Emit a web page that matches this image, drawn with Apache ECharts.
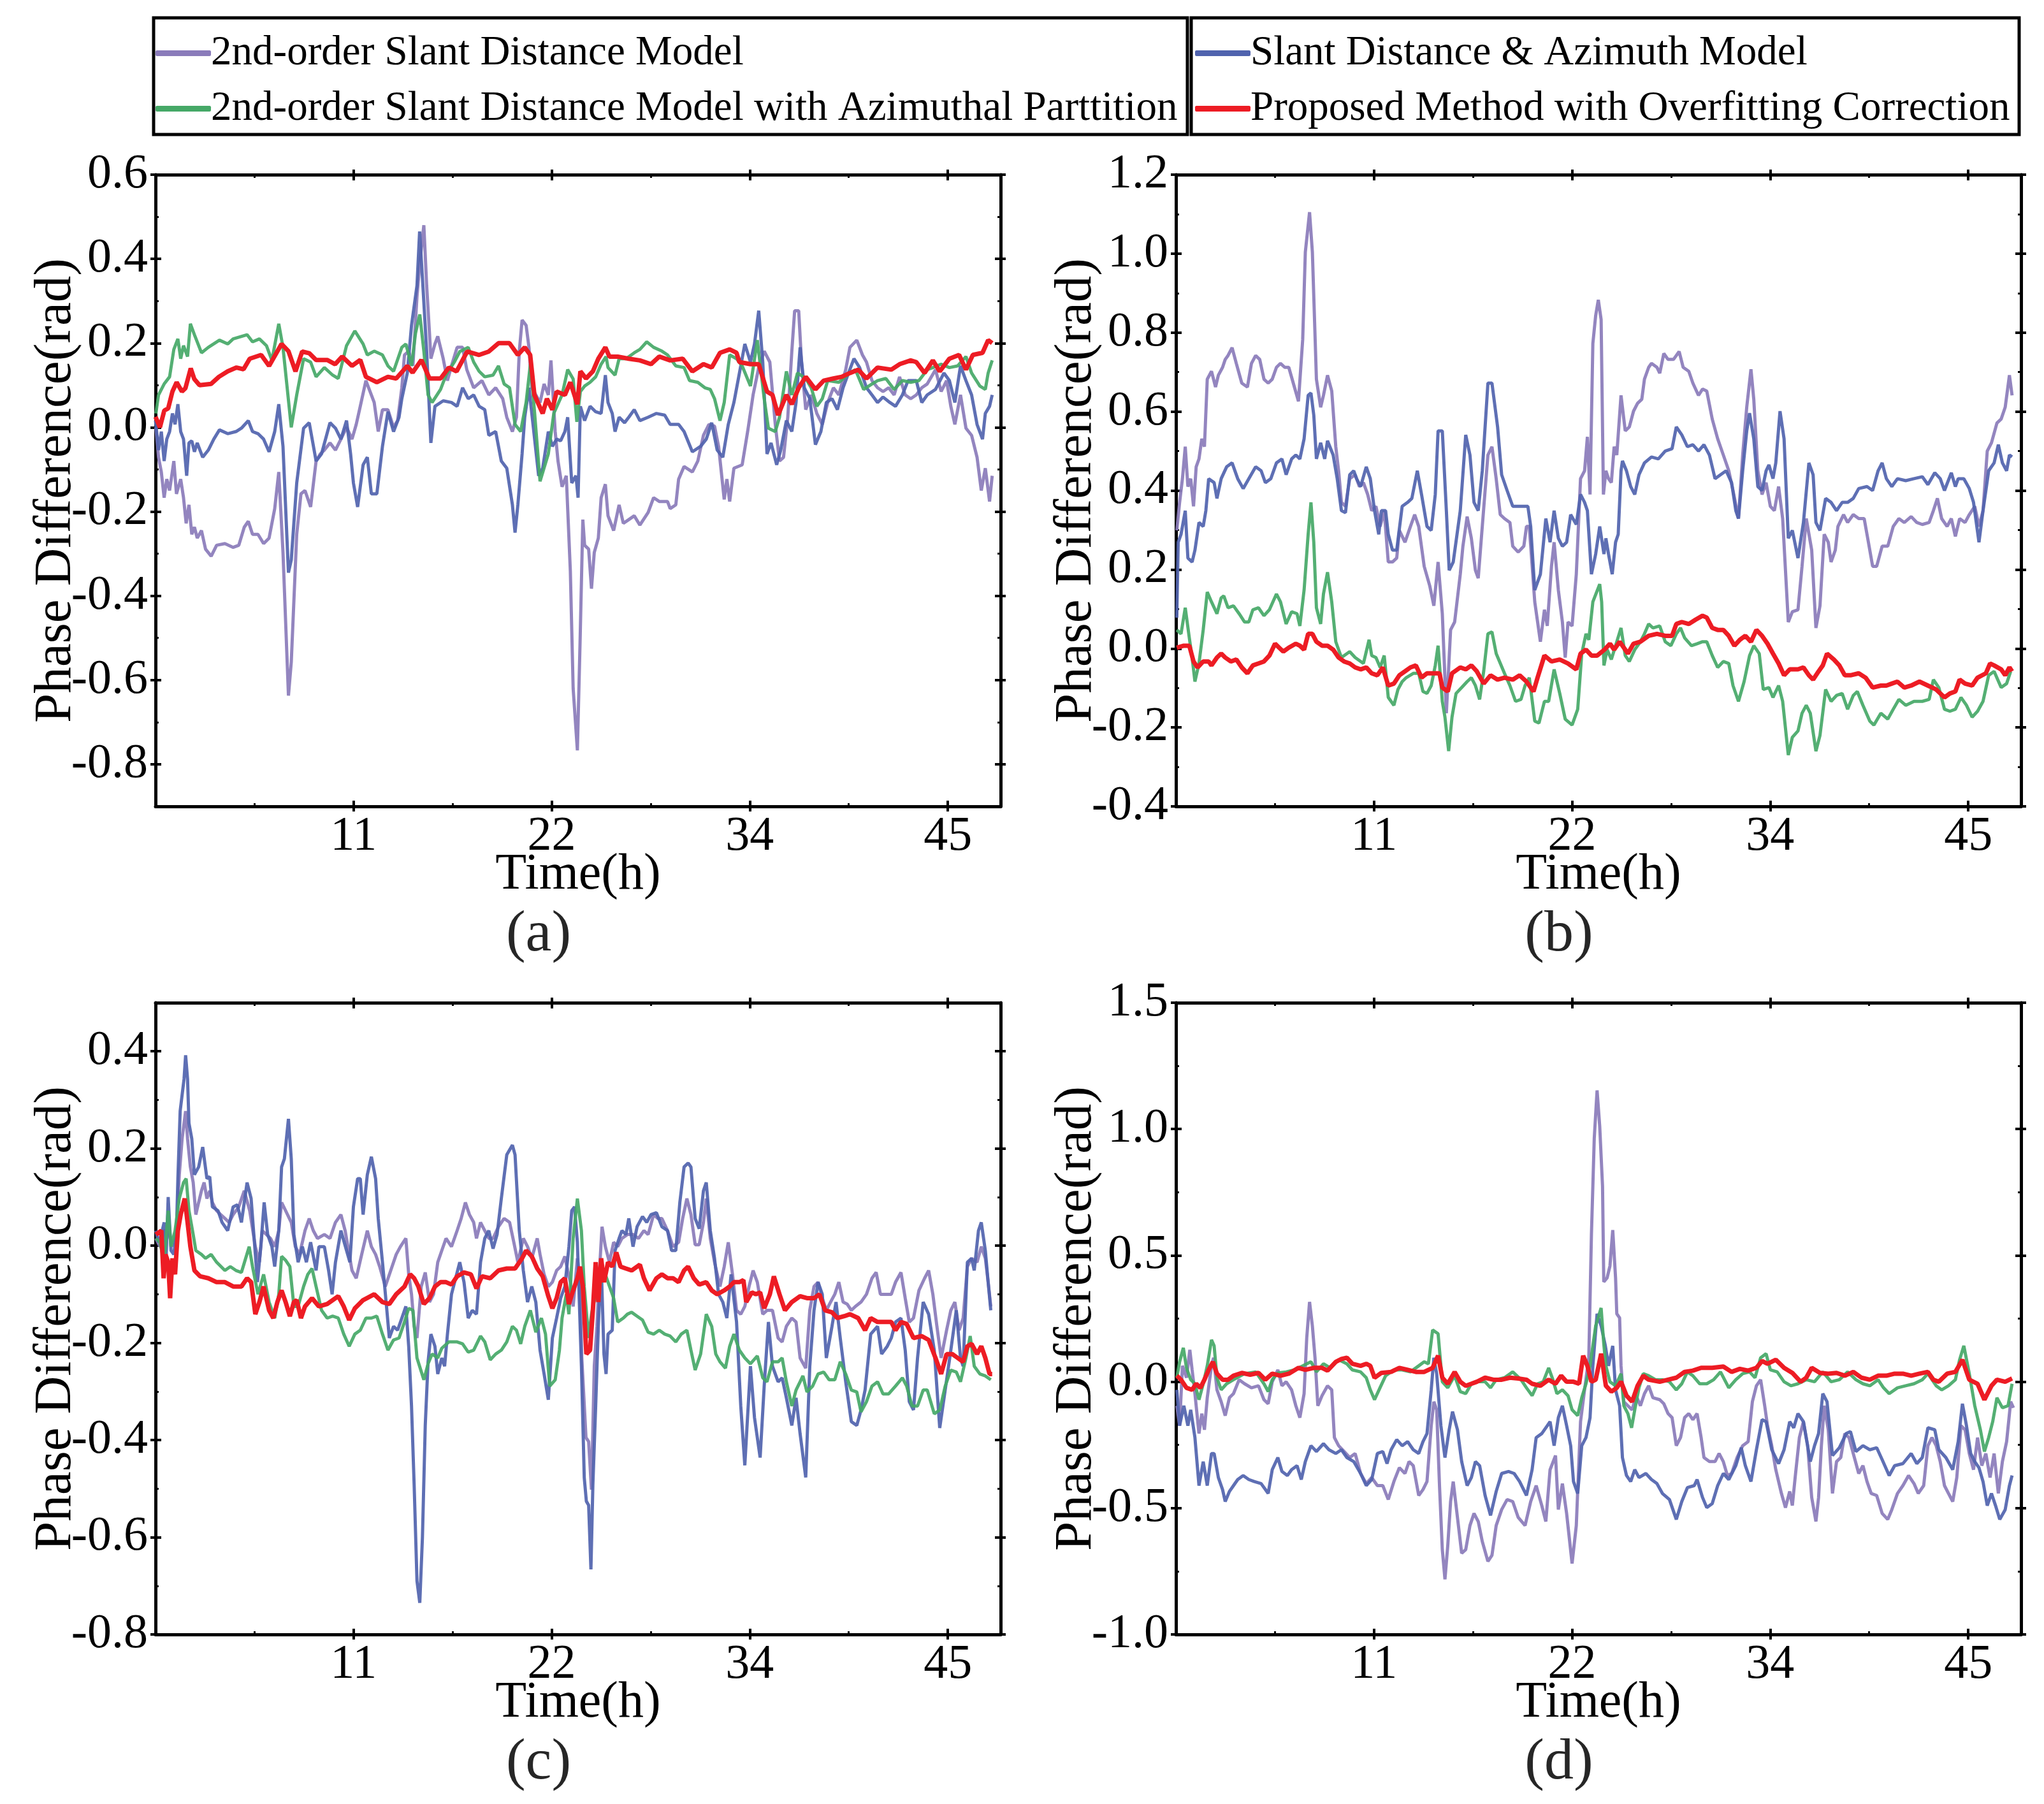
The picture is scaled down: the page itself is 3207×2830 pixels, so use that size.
<!DOCTYPE html>
<html>
<head>
<meta charset="utf-8">
<script src="https://cdn.jsdelivr.net/npm/echarts@6/dist/echarts.min.js"></script>
<style>
  html, body { margin: 0; padding: 0; background: #fff; }
  #chart { width: 3207px; height: 2830px; }
</style>
</head>
<body>
<div id="chart"></div>
<script>
const FONT = '"Liberation Serif", "Times New Roman", serif';

const seriesNames = [
  '2nd-order Slant Distance Model',
  'Slant Distance & Azimuth Model',
  '2nd-order Slant Distance Model with Azimuthal Parttition',
  'Proposed Method with Overfitting Correction'
];
const seriesColors = ['#8A7BBA', '#5063AE', '#45A867', '#ED1C24'];

// x ticks (hours) and their printed labels
const xTickValues = [11.25, 22.5, 33.75, 45];
const xTickLabels = ['11', '22', '34', '45'];

// y tick labels per panel
const aYTicks = [-0.8, -0.6, -0.4, -0.2, 0, 0.2, 0.4, 0.6];
const bYTicks = [-0.4, -0.2, 0, 0.2, 0.4, 0.6, 0.8, 1.0, 1.2];
const cYTicks = [-0.8, -0.6, -0.4, -0.2, 0, 0.2, 0.4];
const dYTicks = [-1.0, -0.5, 0, 0.5, 1.0, 1.5];

// ---- panel (a) ----
const aSlant2nd = [[0.02,0],[0.17,-0.071],[0.33,-0.106],[0.49,-0.167],[0.64,-0.123],[0.8,-0.15],[1.04,-0.08],[1.19,-0.158],[1.43,-0.123],[1.59,-0.167],[1.74,-0.228],[1.9,-0.184],[2.06,-0.254],[2.21,-0.237],[2.37,-0.263],[2.61,-0.245],[2.84,-0.289],[3.16,-0.306],[3.47,-0.28],[3.94,-0.276],[4.41,-0.285],[4.73,-0.28],[5.04,-0.237],[5.27,-0.223],[5.51,-0.254],[5.82,-0.254],[6.14,-0.276],[6.45,-0.263],[6.77,-0.193],[7.0,-0.106],[7.24,-0.297],[7.55,-0.637],[7.71,-0.558],[8.02,-0.254],[8.26,-0.158],[8.49,-0.15],[8.81,-0.189],[9.12,-0.08],[9.36,-0.063],[9.59,-0.054],[9.91,-0.037],[10.22,-0.054],[10.53,-0.028],[10.85,0],[11.16,-0.028],[11.4,0.007],[11.63,0.05],[11.95,0.111],[12.26,0.077],[12.42,0.059],[12.65,-0.01],[12.89,0.042],[13.2,0.042],[13.52,0],[13.75,0.016],[13.99,0.094],[14.14,0.172],[14.38,0.181],[14.62,0.146],[14.85,0.311],[15.01,0.39],[15.24,0.48],[15.4,0.337],[15.56,0.224],[15.64,0.163],[15.87,0.198],[16.03,0.216],[16.34,0.163],[16.58,0.111],[16.81,0.146],[17.13,0.19],[17.44,0.19],[17.68,0.137],[18.07,0.094],[18.54,0.111],[18.93,0.077],[19.32,0.094],[19.72,0.068],[19.95,0.024],[20.27,-0.01],[20.5,0.024],[20.66,0.18],[20.82,0.255],[21.05,0.242],[21.21,0.19],[21.37,0.094],[21.6,0.077],[21.84,0.059],[22.07,0.103],[22.31,0.077],[22.46,0.159],[22.7,-0.01],[22.86,-0.08],[23.09,-0.141],[23.33,-0.115],[23.56,-0.34],[23.72,-0.62],[23.96,-0.767],[24.11,-0.515],[24.27,-0.219],[24.37,-0.28],[24.6,-0.289],[24.76,-0.383],[24.92,-0.297],[25.15,-0.263],[25.31,-0.167],[25.55,-0.135],[25.7,-0.21],[26.02,-0.245],[26.33,-0.184],[26.57,-0.228],[26.88,-0.219],[27.19,-0.21],[27.51,-0.232],[27.98,-0.202],[28.29,-0.167],[28.61,-0.176],[29.08,-0.176],[29.23,-0.193],[29.55,-0.184],[29.71,-0.123],[30.02,-0.093],[30.49,-0.106],[30.8,-0.08],[31.12,-0.019],[31.43,0.007],[31.75,0.003],[31.98,-0.045],[32.3,-0.171],[32.45,-0.123],[32.61,-0.176],[32.85,-0.097],[33.32,-0.089],[33.63,-0.01],[33.94,0.077],[34.26,0.142],[34.57,0.181],[34.89,0.155],[35.2,0.007],[35.44,-0.08],[35.67,-0.071],[35.91,0.024],[36.14,0.181],[36.3,0.277],[36.53,0.277],[36.69,0.155],[36.93,0.042],[37.24,0.077],[37.56,0.033],[37.87,0.007],[38.18,0.059],[38.5,0.094],[38.81,0.077],[39.2,0.137],[39.44,0.19],[39.83,0.207],[40.15,0.172],[40.38,0.155],[40.69,0.111],[41.01,0.094],[41.32,0.085],[41.64,0.094],[41.95,0.077],[42.26,0.12],[42.58,0.077],[42.89,0.068],[43.21,0.077],[43.52,0.094],[43.83,0.103],[44.3,0.137],[44.62,0.085],[44.93,0.111],[45.17,0.05],[45.4,0.007],[45.72,0.077],[46.03,-0.002],[46.35,-0.019],[46.66,-0.071],[46.9,-0.15],[47.13,-0.097],[47.37,-0.176],[47.52,-0.115]];
const aSlantAzimuth = [[0,0.016],[0.17,-0.054],[0.33,-0.01],[0.49,-0.08],[0.64,-0.028],[0.8,-0.01],[0.96,0.033],[1.11,0.007],[1.27,0.055],[1.43,-0.01],[1.59,-0.028],[1.77,-0.115],[1.9,-0.037],[2.06,-0.032],[2.21,-0.058],[2.37,-0.037],[2.68,-0.071],[3.0,-0.054],[3.31,-0.028],[3.63,-0.006],[4.1,-0.015],[4.57,-0.01],[4.88,-0.002],[5.27,0.016],[5.51,-0.01],[5.82,-0.015],[6.14,-0.028],[6.45,-0.058],[6.77,-0.01],[7.0,0.055],[7.24,-0.045],[7.55,-0.345],[7.71,-0.315],[8.02,-0.132],[8.41,-0.002],[8.73,0.011],[9.12,-0.08],[9.43,-0.063],[9.91,0.011],[10.22,-0.002],[10.53,-0.028],[10.85,0.016],[11.08,-0.063],[11.24,-0.132],[11.48,-0.189],[11.79,-0.089],[12.03,-0.071],[12.26,-0.158],[12.57,-0.158],[12.89,-0.045],[13.2,0.037],[13.52,-0.01],[13.83,0.024],[13.99,0.068],[14.3,0.129],[14.54,0.242],[14.85,0.337],[15.0,0.465],[15.16,0.355],[15.4,0.18],[15.64,-0.037],[15.87,0.05],[16.34,0.063],[16.81,0.059],[17.13,0.05],[17.44,0.094],[17.76,0.068],[18.07,0.077],[18.38,0.05],[18.7,0.042],[18.93,-0.019],[19.32,-0.01],[19.64,-0.08],[19.95,-0.097],[20.27,-0.184],[20.42,-0.25],[20.58,-0.184],[20.82,-0.063],[20.97,0.024],[21.21,0.094],[21.44,0.007],[21.76,-0.115],[21.99,-0.097],[22.31,-0.01],[22.54,-0.045],[22.78,-0.028],[23.01,-0.032],[23.25,-0.01],[23.41,0.024],[23.64,-0.132],[23.88,-0.115],[24.0,-0.167],[24.13,0.05],[24.37,0.016],[24.68,0.05],[25.0,0.037],[25.31,0.033],[25.55,0.124],[25.7,0.059],[25.94,0.033],[26.1,-0.01],[26.33,0.024],[26.64,0.011],[26.88,0.024],[27.19,0.042],[27.51,0.016],[27.98,0.024],[28.45,0.033],[28.92,0.029],[29.23,0.007],[29.71,0.007],[30.02,-0.01],[30.49,-0.058],[30.96,-0.045],[31.28,-0.028],[31.59,0.011],[31.9,-0.054],[32.22,-0.071],[32.53,0.007],[32.85,0.059],[33.24,0.146],[33.47,0.198],[33.79,0.155],[34.02,0.198],[34.26,0.277],[34.49,0.155],[34.73,-0.063],[34.96,-0.037],[35.28,-0.089],[35.51,-0.054],[35.83,0.016],[36.14,-0.01],[36.38,0.059],[36.61,0.19],[36.85,0.094],[37.16,0.068],[37.48,-0.041],[37.79,-0.01],[38.1,0.059],[38.42,0.068],[38.73,0.042],[39.05,0.094],[39.36,0.129],[39.67,0.163],[39.99,0.142],[40.38,0.094],[40.69,0.077],[41.01,0.059],[41.32,0.072],[41.71,0.059],[42.03,0.05],[42.42,0.077],[42.74,0.111],[43.21,0.111],[43.52,0.059],[43.83,0.077],[44.3,0.09],[44.78,0.129],[45.09,0.111],[45.4,0.059],[45.72,0.146],[46.03,0.111],[46.35,0.077],[46.66,0.007],[46.97,-0.028],[47.13,0.033],[47.37,0.05],[47.52,0.077]];
const aSlantPartition = [[0.02,0.033],[0.17,0.077],[0.49,0.103],[0.8,0.12],[1.04,0.185],[1.27,0.21],[1.43,0.163],[1.59,0.194],[1.82,0.168],[1.98,0.246],[2.21,0.22],[2.61,0.177],[3.0,0.19],[3.63,0.207],[4.1,0.198],[4.41,0.21],[5.2,0.22],[5.51,0.203],[5.9,0.21],[6.3,0.194],[6.61,0.159],[7.0,0.246],[7.24,0.19],[7.71,0.0],[8.02,0.077],[8.41,0.163],[8.81,0.155],[9.12,0.12],[9.59,0.142],[10.06,0.124],[10.38,0.116],[10.85,0.194],[11.32,0.229],[11.79,0.198],[12.03,0.172],[12.42,0.181],[12.89,0.172],[13.2,0.146],[13.52,0.133],[13.99,0.19],[14.22,0.198],[14.54,0.146],[14.77,0.224],[15.01,0.268],[15.24,0.181],[15.48,0.077],[15.71,0.059],[16.19,0.09],[16.5,0.124],[16.97,0.155],[17.28,0.18],[17.76,0.19],[18.07,0.155],[18.38,0.133],[18.7,0.12],[19.17,0.124],[19.48,0.146],[19.8,0.103],[20.11,0.094],[20.42,0.007],[20.74,-0.01],[21.05,0.06],[21.29,0.15],[21.52,0.04],[21.84,-0.128],[22.31,-0.063],[22.62,0.033],[23.09,0.077],[23.41,0.137],[23.72,0.115],[23.93,0.013],[24.13,0.085],[24.37,0.098],[24.68,0.107],[25.0,0.12],[25.31,0.15],[25.59,0.168],[25.7,0.142],[26.1,0.124],[26.33,0.163],[26.72,0.163],[27.19,0.177],[27.51,0.185],[27.9,0.203],[28.29,0.19],[28.76,0.181],[29.08,0.172],[29.55,0.146],[30.02,0.142],[30.33,0.111],[30.8,0.107],[31.2,0.094],[31.51,0.09],[31.75,0.068],[32.06,0.016],[32.3,0.059],[32.61,0.172],[33.0,0.163],[33.32,0.146],[33.79,0.098],[34.18,0.207],[34.57,0.068],[34.81,-0.002],[35.2,-0.01],[35.44,0.024],[35.83,0.133],[36.14,0.077],[36.46,0.129],[36.93,0.116],[37.24,0.094],[37.56,0.05],[37.87,0.068],[38.18,0.111],[38.81,0.107],[39.44,0.129],[39.75,0.137],[40.22,0.09],[40.69,0.103],[41.01,0.111],[41.48,0.116],[41.95,0.09],[42.42,0.111],[42.89,0.107],[43.36,0.111],[43.83,0.137],[44.15,0.142],[44.62,0.15],[45.09,0.142],[45.56,0.146],[46.03,0.168],[46.35,0.129],[46.82,0.098],[47.13,0.09],[47.29,0.129],[47.52,0.159]];
const aProposed = [[0,0.025],[0.25,0],[0.5,0.04],[0.72,0.045],[0.96,0.085],[1.2,0.107],[1.5,0.085],[1.7,0.093],[2.0,0.14],[2.2,0.115],[2.5,0.1],[3.15,0.103],[3.6,0.12],[4.1,0.133],[4.6,0.142],[5.0,0.138],[5.35,0.163],[6.0,0.172],[6.45,0.146],[7.16,0.198],[7.55,0.181],[7.95,0.133],[8.33,0.18],[8.73,0.176],[9.12,0.16],[9.75,0.16],[10.2,0.15],[10.6,0.168],[11.16,0.146],[11.63,0.16],[11.95,0.12],[12.57,0.107],[13.2,0.12],[13.67,0.116],[14.3,0.146],[14.6,0.13],[15.1,0.16],[15.56,0.116],[16.19,0.116],[16.66,0.142],[17.1,0.133],[17.7,0.18],[18.38,0.172],[18.93,0.18],[19.48,0.2],[20.1,0.2],[20.58,0.172],[20.97,0.19],[21.28,0.172],[21.52,0.077],[21.99,0.033],[22.23,0.068],[22.54,0.042],[22.78,0.085],[23.25,0.077],[23.56,0.107],[23.96,0.055],[24.13,0.133],[24.45,0.116],[24.84,0.133],[25.15,0.163],[25.55,0.19],[25.78,0.168],[26.25,0.168],[26.88,0.163],[27.51,0.159],[28.14,0.15],[28.61,0.168],[29.23,0.159],[29.94,0.163],[30.49,0.133],[31.12,0.15],[31.59,0.142],[32.06,0.177],[32.61,0.185],[33.0,0.177],[33.16,0.155],[33.79,0.15],[34.26,0.15],[34.73,0.085],[35.04,0.077],[35.36,0.029],[35.83,0.077],[36.14,0.055],[36.53,0.094],[36.93,0.12],[37.48,0.09],[37.95,0.111],[38.5,0.116],[38.97,0.12],[39.44,0.129],[39.91,0.137],[40.38,0.116],[41.01,0.142],[41.79,0.137],[42.26,0.15],[42.89,0.159],[43.21,0.155],[43.68,0.129],[44.15,0.159],[44.54,0.133],[45.09,0.163],[45.64,0.172],[46.03,0.137],[46.42,0.172],[46.97,0.177],[47.29,0.207],[47.52,0.2]];

// ---- panel (b) ----
const bSlant2nd = [[0.05,0.299],[0.21,0.37],[0.37,0.43],[0.53,0.511],[0.68,0.41],[0.84,0.43],[1.0,0.36],[1.15,0.46],[1.31,0.48],[1.47,0.531],[1.62,0.511],[1.78,0.682],[2.02,0.702],[2.25,0.662],[2.41,0.692],[2.65,0.712],[2.8,0.732],[2.96,0.742],[3.19,0.762],[3.43,0.722],[3.74,0.672],[4.06,0.662],[4.29,0.722],[4.53,0.742],[4.76,0.732],[5.0,0.682],[5.24,0.672],[5.47,0.682],[5.71,0.712],[5.94,0.722],[6.18,0.712],[6.41,0.712],[6.73,0.662],[6.96,0.626],[7.2,0.782],[7.35,1.004],[7.59,1.105],[7.75,1.004],[7.98,0.682],[8.22,0.611],[8.38,0.641],[8.61,0.692],[8.85,0.652],[9.08,0.511],[9.24,0.45],[9.4,0.37],[9.63,0.36],[9.87,0.43],[10.18,0.44],[10.42,0.41],[10.65,0.42],[10.89,0.39],[11.12,0.349],[11.36,0.36],[11.6,0.309],[11.83,0.349],[12.06,0.219],[12.3,0.219],[12.54,0.229],[12.69,0.299],[13.01,0.269],[13.32,0.309],[13.56,0.339],[13.79,0.309],[14.1,0.208],[14.42,0.158],[14.65,0.108],[14.89,0.219],[15.13,0.088],[15.36,-0.164],[15.6,0.047],[15.83,0.067],[16.15,0.188],[16.3,0.259],[16.54,0.334],[16.78,0.279],[17.01,0.198],[17.17,0.178],[17.4,0.309],[17.72,0.49],[17.95,0.511],[18.19,0.43],[18.42,0.339],[18.66,0.329],[18.97,0.319],[19.13,0.259],[19.44,0.244],[19.76,0.259],[19.91,0.309],[20.07,0.309],[20.38,0.118],[20.7,0.017],[20.93,0.098],[21.09,0.057],[21.33,0.208],[21.48,0.269],[21.72,0.148],[21.95,0.067],[22.11,-0.023],[22.27,0.067],[22.5,0.057],[22.74,0.188],[22.98,0.43],[23.21,0.45],[23.37,0.536],[23.52,0.39],[23.68,0.772],[23.84,0.843],[23.99,0.883],[24.15,0.833],[24.28,0.39],[24.42,0.45],[24.57,0.43],[24.73,0.42],[24.89,0.511],[25.04,0.49],[25.28,0.641],[25.52,0.551],[25.75,0.561],[25.99,0.601],[26.22,0.621],[26.46,0.631],[26.61,0.682],[26.85,0.712],[27.01,0.722],[27.32,0.712],[27.48,0.697],[27.71,0.747],[27.95,0.732],[28.26,0.732],[28.58,0.752],[28.81,0.712],[29.13,0.702],[29.36,0.672],[29.68,0.641],[29.91,0.657],[30.15,0.652],[30.46,0.581],[30.77,0.531],[31.09,0.49],[31.4,0.45],[31.64,0.4],[31.95,0.329],[32.19,0.49],[32.42,0.611],[32.66,0.707],[32.82,0.631],[33.05,0.45],[33.29,0.39],[33.52,0.42],[33.76,0.36],[33.99,0.349],[34.23,0.41],[34.46,0.329],[34.78,0.067],[35.01,0.093],[35.33,0.098],[35.56,0.208],[35.8,0.329],[36.11,0.249],[36.35,0.052],[36.58,0.108],[36.82,0.289],[37.05,0.269],[37.21,0.219],[37.45,0.249],[37.6,0.309],[37.92,0.339],[38.15,0.319],[38.47,0.339],[38.78,0.329],[39.09,0.329],[39.33,0.269],[39.57,0.208],[39.8,0.208],[40.11,0.259],[40.43,0.259],[40.74,0.309],[41.06,0.329],[41.37,0.319],[41.76,0.334],[42.08,0.319],[42.39,0.314],[42.78,0.319],[43.02,0.349],[43.25,0.38],[43.49,0.329],[43.8,0.309],[44.04,0.329],[44.27,0.284],[44.51,0.329],[44.82,0.319],[45.06,0.339],[45.37,0.36],[45.61,0.309],[45.84,0.349],[46.08,0.5],[46.32,0.521],[46.63,0.571],[46.87,0.581],[47.1,0.611],[47.34,0.692],[47.49,0.641]];
const bSlantAzimuth = [[0.05,0.078],[0.13,0.269],[0.29,0.289],[0.53,0.349],[0.68,0.229],[0.92,0.219],[1.08,0.249],[1.31,0.319],[1.55,0.309],[1.7,0.349],[1.86,0.43],[2.17,0.42],[2.33,0.38],[2.57,0.43],[2.88,0.46],[3.19,0.47],[3.51,0.43],[3.82,0.405],[4.14,0.43],[4.53,0.46],[4.84,0.45],[5.08,0.42],[5.39,0.43],[5.71,0.47],[6.02,0.48],[6.26,0.44],[6.57,0.48],[6.81,0.49],[7.04,0.48],[7.28,0.531],[7.51,0.641],[7.67,0.647],[7.83,0.591],[7.98,0.48],[8.22,0.521],[8.45,0.48],[8.61,0.526],[8.93,0.49],[9.16,0.43],[9.4,0.349],[9.63,0.344],[9.87,0.44],[10.1,0.45],[10.26,0.43],[10.49,0.41],[10.81,0.46],[11.04,0.43],[11.28,0.349],[11.52,0.289],[11.67,0.349],[11.91,0.349],[12.06,0.289],[12.3,0.249],[12.54,0.249],[12.85,0.36],[13.16,0.37],[13.4,0.38],[13.71,0.45],[13.95,0.39],[14.26,0.309],[14.5,0.299],[14.73,0.39],[14.89,0.551],[15.13,0.551],[15.36,0.349],[15.52,0.198],[15.75,0.219],[16.15,0.349],[16.46,0.541],[16.7,0.49],[16.93,0.37],[17.17,0.349],[17.4,0.45],[17.72,0.672],[17.95,0.672],[18.27,0.561],[18.5,0.44],[18.81,0.4],[19.13,0.36],[19.52,0.36],[19.76,0.36],[19.99,0.36],[20.15,0.309],[20.38,0.148],[20.7,0.188],[21.01,0.329],[21.25,0.269],[21.48,0.349],[21.72,0.279],[21.95,0.259],[22.19,0.269],[22.42,0.339],[22.74,0.314],[22.98,0.39],[23.21,0.37],[23.37,0.349],[23.6,0.188],[23.84,0.239],[24.07,0.309],[24.31,0.239],[24.42,0.279],[24.57,0.239],[24.78,0.188],[24.97,0.269],[25.12,0.289],[25.28,0.45],[25.36,0.475],[25.59,0.45],[25.83,0.41],[26.06,0.39],[26.3,0.44],[26.61,0.47],[27.01,0.485],[27.4,0.48],[27.79,0.5],[28.18,0.506],[28.42,0.561],[28.73,0.541],[29.05,0.511],[29.36,0.516],[29.68,0.5],[29.99,0.516],[30.3,0.49],[30.62,0.43],[30.93,0.44],[31.25,0.45],[31.56,0.42],[31.8,0.349],[31.95,0.329],[32.19,0.45],[32.42,0.551],[32.58,0.596],[32.82,0.531],[33.05,0.41],[33.29,0.4],[33.52,0.45],[33.68,0.465],[33.91,0.43],[34.07,0.47],[34.31,0.601],[34.54,0.531],[34.78,0.279],[35.01,0.299],[35.33,0.229],[35.64,0.319],[35.95,0.47],[36.19,0.44],[36.35,0.319],[36.58,0.299],[36.9,0.38],[37.21,0.37],[37.52,0.349],[37.84,0.37],[38.15,0.37],[38.47,0.38],[38.78,0.405],[39.25,0.41],[39.57,0.4],[39.88,0.45],[40.11,0.47],[40.35,0.43],[40.66,0.41],[40.98,0.43],[41.45,0.425],[41.92,0.43],[42.39,0.435],[42.71,0.415],[43.1,0.445],[43.41,0.43],[43.65,0.4],[44.04,0.445],[44.27,0.41],[44.43,0.43],[44.75,0.43],[45.06,0.405],[45.3,0.37],[45.61,0.269],[45.84,0.349],[46.16,0.45],[46.47,0.47],[46.71,0.516],[46.94,0.47],[47.18,0.45],[47.34,0.49],[47.49,0.485]];
const bSlantPartition = [[0.05,0.047],[0.29,0.037],[0.53,0.103],[0.76,0.027],[0.92,-0.023],[1.08,-0.084],[1.31,-0.038],[1.55,0.047],[1.78,0.143],[2.02,0.118],[2.33,0.088],[2.57,0.128],[2.72,0.133],[2.96,0.103],[3.27,0.108],[3.59,0.088],[3.9,0.067],[4.14,0.067],[4.37,0.098],[4.69,0.103],[5.0,0.083],[5.31,0.098],[5.71,0.138],[5.94,0.118],[6.26,0.062],[6.57,0.093],[6.88,0.088],[7.04,0.057],[7.28,0.148],[7.51,0.289],[7.67,0.37],[7.83,0.269],[7.98,0.103],[8.22,0.062],[8.38,0.138],[8.61,0.193],[8.85,0.118],[9.08,0.017],[9.4,-0.023],[9.87,-0.008],[10.18,-0.023],[10.65,-0.038],[10.97,0.022],[11.12,-0.018],[11.36,-0.023],[11.6,-0.048],[11.83,-0.018],[12.06,-0.124],[12.38,-0.144],[12.61,-0.104],[12.85,-0.084],[13.08,-0.074],[13.48,-0.063],[13.79,-0.063],[14.03,-0.109],[14.26,-0.114],[14.5,-0.094],[14.73,-0.043],[14.89,0.007],[15.13,-0.134],[15.28,-0.174],[15.49,-0.26],[15.68,-0.174],[15.91,-0.114],[16.23,-0.099],[16.54,-0.084],[16.78,-0.074],[17.01,-0.094],[17.25,-0.129],[17.48,-0.058],[17.72,0.037],[17.95,0.042],[18.19,-0.013],[18.66,-0.063],[18.97,-0.094],[19.29,-0.134],[19.6,-0.129],[19.83,-0.094],[20.07,-0.074],[20.38,-0.184],[20.62,-0.189],[20.93,-0.134],[21.17,-0.134],[21.48,-0.053],[21.8,-0.114],[22.11,-0.179],[22.5,-0.194],[22.82,-0.154],[23.05,-0.013],[23.29,0.037],[23.45,0.022],[23.68,0.118],[24.07,0.163],[24.18,0.118],[24.31,-0.043],[24.49,-0.003],[24.73,-0.028],[24.97,0.007],[25.28,0.052],[25.52,-0.018],[25.75,-0.033],[26.06,-0.003],[26.38,0.017],[26.61,0.037],[26.85,0.062],[27.09,0.052],[27.48,0.057],[27.79,0.017],[28.11,0.007],[28.42,0.037],[28.66,0.052],[28.89,0.027],[29.28,0.007],[29.6,0.012],[29.91,0.017],[30.15,0.017],[30.46,-0.018],[30.77,-0.048],[31.09,-0.033],[31.4,-0.038],[31.64,-0.094],[31.95,-0.134],[32.27,-0.084],[32.58,-0.018],[32.82,0.007],[33.13,-0.013],[33.36,-0.104],[33.68,-0.099],[33.91,-0.124],[34.23,-0.094],[34.46,-0.134],[34.78,-0.27],[35.01,-0.225],[35.33,-0.209],[35.56,-0.164],[35.8,-0.144],[36.03,-0.164],[36.35,-0.26],[36.58,-0.22],[36.9,-0.104],[37.21,-0.134],[37.52,-0.119],[37.84,-0.114],[38.15,-0.154],[38.47,-0.119],[38.7,-0.109],[39.02,-0.144],[39.41,-0.184],[39.64,-0.194],[40.04,-0.164],[40.43,-0.179],[40.74,-0.154],[41.06,-0.129],[41.45,-0.144],[41.92,-0.134],[42.39,-0.134],[42.78,-0.129],[43.02,-0.079],[43.33,-0.099],[43.65,-0.154],[43.96,-0.159],[44.27,-0.154],[44.59,-0.124],[44.9,-0.144],[45.22,-0.174],[45.53,-0.159],[45.84,-0.134],[46.16,-0.068],[46.47,-0.058],[46.87,-0.099],[47.18,-0.089],[47.41,-0.058]];
const bProposed = [[0.05,0.002],[0.45,0.007],[0.76,0.007],[1.0,-0.033],[1.23,-0.048],[1.55,-0.033],[1.86,-0.033],[2.02,-0.043],[2.33,-0.023],[2.57,-0.013],[2.8,-0.023],[3.12,-0.033],[3.43,-0.028],[3.74,-0.048],[4.06,-0.063],[4.37,-0.043],[4.69,-0.038],[5.0,-0.033],[5.31,-0.018],[5.63,0.012],[5.86,0.002],[6.1,-0.008],[6.41,0.002],[6.81,0.012],[7.04,0.007],[7.28,-0.003],[7.51,0.037],[7.75,0.037],[7.98,0.017],[8.3,0.007],[8.61,0.007],[8.93,-0.003],[9.24,-0.023],[9.55,-0.033],[9.87,-0.038],[10.18,-0.048],[10.49,-0.053],[10.81,-0.048],[11.12,-0.063],[11.44,-0.068],[11.75,-0.048],[12.06,-0.094],[12.38,-0.089],[12.69,-0.068],[13.01,-0.058],[13.32,-0.048],[13.63,-0.043],[13.95,-0.074],[14.26,-0.063],[14.73,-0.063],[14.97,-0.063],[15.13,-0.099],[15.44,-0.109],[15.68,-0.063],[16.15,-0.048],[16.46,-0.053],[16.78,-0.043],[17.09,-0.058],[17.48,-0.089],[17.87,-0.068],[18.27,-0.079],[18.66,-0.074],[19.13,-0.079],[19.52,-0.068],[19.91,-0.084],[20.31,-0.109],[20.54,-0.074],[20.93,-0.018],[21.33,-0.033],[21.8,-0.028],[22.27,-0.038],[22.74,-0.053],[22.98,-0.013],[23.29,-0.003],[23.6,-0.018],[23.92,-0.018],[24.34,-0.003],[24.65,0.012],[24.89,-0.003],[25.2,0.017],[25.44,0.002],[25.67,-0.013],[25.99,0.012],[26.38,0.017],[26.85,0.032],[27.32,0.037],[27.79,0.032],[28.18,0.032],[28.42,0.062],[28.73,0.067],[29.13,0.062],[29.52,0.073],[29.91,0.083],[30.15,0.078],[30.46,0.052],[30.77,0.047],[31.09,0.047],[31.4,0.032],[31.72,0.007],[32.03,0.022],[32.34,0.032],[32.66,0.017],[32.97,0.047],[33.29,0.032],[33.6,0.012],[33.91,-0.013],[34.23,-0.038],[34.54,-0.068],[34.86,-0.053],[35.33,-0.053],[35.64,-0.048],[35.95,-0.068],[36.19,-0.079],[36.5,-0.058],[36.74,-0.043],[36.98,-0.013],[37.37,-0.028],[37.68,-0.043],[37.99,-0.068],[38.31,-0.068],[38.78,-0.063],[39.17,-0.074],[39.57,-0.099],[40.04,-0.094],[40.35,-0.094],[40.66,-0.089],[40.98,-0.084],[41.37,-0.099],[41.76,-0.094],[42.23,-0.084],[42.71,-0.094],[43.18,-0.104],[43.65,-0.124],[43.96,-0.114],[44.27,-0.109],[44.51,-0.079],[44.82,-0.089],[45.22,-0.094],[45.53,-0.074],[46.0,-0.063],[46.24,-0.038],[46.47,-0.043],[46.87,-0.053],[47.1,-0.068],[47.34,-0.048],[47.49,-0.058]];

// ---- panel (c) ----
const cSlant2nd = [[0.02,0.015],[0.25,-0.002],[0.49,0.031],[0.72,0.031],[0.96,-0.002],[1.19,0.031],[1.35,0.146],[1.51,0.22],[1.71,0.277],[1.82,0.22],[1.98,0.162],[2.14,0.13],[2.29,0.064],[2.45,0.089],[2.61,0.113],[2.76,0.13],[2.92,0.097],[3.08,0.113],[3.23,0.089],[3.47,0.072],[3.7,0.064],[3.94,0.056],[4.18,0.048],[4.41,0.064],[4.73,0.08],[5.04,0.113],[5.35,0.072],[5.67,-0.002],[5.9,-0.034],[6.06,0.031],[6.3,0.023],[6.53,0.015],[6.77,-0.002],[7.0,0.031],[7.16,0.089],[7.39,0.072],[7.71,0.048],[7.94,-0.002],[8.18,-0.018],[8.49,0.031],[8.73,0.056],[8.96,0.031],[9.2,0.015],[9.59,0.023],[9.91,0.015],[10.22,0.048],[10.53,0.064],[10.77,0.031],[11.0,-0.018],[11.16,-0.051],[11.4,-0.067],[11.71,-0.018],[12.03,0.031],[12.26,-0.002],[12.5,-0.018],[12.73,-0.043],[13.05,-0.084],[13.36,-0.051],[13.67,-0.018],[13.91,-0.002],[14.22,0.015],[14.38,-0.059],[14.54,-0.1],[14.69,-0.166],[14.85,-0.19],[15.09,-0.084],[15.32,-0.055],[15.56,-0.116],[15.79,-0.1],[16.03,-0.034],[16.26,-0.01],[16.5,0.015],[16.81,-0.002],[17.13,0.031],[17.36,0.056],[17.6,0.089],[17.83,0.064],[18.07,0.048],[18.23,0.015],[18.46,0.048],[18.7,0.031],[18.93,0.015],[19.17,0.015],[19.48,0.039],[19.8,0.056],[20.11,0.048],[20.35,0.007],[20.58,-0.034],[20.89,0.015],[21.13,-0.002],[21.37,-0.026],[21.68,0.015],[21.84,-0.018],[22.07,-0.059],[22.31,-0.084],[22.54,-0.075],[22.78,-0.051],[23.01,-0.043],[23.25,-0.022],[23.41,-0.051],[23.56,-0.075],[23.72,-0.125],[23.96,-0.026],[24.11,-0.075],[24.21,-0.231],[24.45,-0.395],[24.6,-0.403],[24.76,-0.502],[24.92,-0.248],[25.07,-0.166],[25.23,-0.043],[25.36,0.039],[25.55,-0.002],[25.78,-0.034],[26.02,0.007],[26.25,-0.002],[26.49,0.015],[26.8,0.023],[27.12,0.023],[27.43,0.015],[27.74,0.031],[27.98,0.023],[28.29,0.064],[28.53,0.056],[28.76,0.056],[29.08,0.031],[29.39,-0.002],[29.71,0.007],[29.94,0.056],[30.18,0.097],[30.41,0.064],[30.65,0.002],[30.88,0.002],[31.12,0.048],[31.28,0.097],[31.51,0.015],[31.75,-0.034],[32.06,-0.084],[32.3,-0.043],[32.53,0.007],[32.77,-0.059],[33.0,-0.133],[33.24,-0.141],[33.47,-0.125],[33.71,-0.084],[33.94,-0.051],[34.18,-0.075],[34.49,-0.141],[34.73,-0.133],[35.04,-0.133],[35.36,-0.19],[35.59,-0.198],[35.83,-0.166],[36.14,-0.149],[36.38,-0.157],[36.61,-0.231],[36.93,-0.252],[37.16,-0.133],[37.4,-0.084],[37.63,-0.075],[37.87,-0.108],[38.1,-0.133],[38.34,-0.116],[38.58,-0.1],[38.81,-0.075],[39.05,-0.116],[39.28,-0.12],[39.52,-0.133],[39.75,-0.125],[40.07,-0.116],[40.38,-0.1],[40.69,-0.067],[40.93,-0.055],[41.17,-0.1],[41.48,-0.1],[41.79,-0.1],[42.03,-0.075],[42.34,-0.055],[42.58,-0.108],[42.81,-0.157],[43.05,-0.149],[43.36,-0.092],[43.68,-0.067],[43.91,-0.051],[44.15,-0.1],[44.38,-0.166],[44.62,-0.231],[44.93,-0.174],[45.17,-0.133],[45.4,-0.116],[45.64,-0.174],[45.87,-0.149],[46.11,-0.043],[46.35,-0.026],[46.66,-0.034],[46.9,-0.002],[47.13,-0.026],[47.29,-0.075],[47.44,-0.125]];
const cSlantAzimuth = [[0.02,0.031],[0.17,0.007],[0.33,0.023],[0.49,0.048],[0.61,-0.018],[0.72,0.1],[0.88,-0.01],[1.04,-0.018],[1.19,0.031],[1.27,0.138],[1.4,0.277],[1.51,0.31],[1.62,0.343],[1.71,0.392],[1.82,0.343],[1.9,0.252],[2.06,0.22],[2.21,0.146],[2.45,0.162],[2.68,0.203],[2.92,0.138],[3.08,0.142],[3.23,0.08],[3.55,0.072],[3.78,0.048],[4.1,0.031],[4.41,0.08],[4.65,0.084],[4.88,0.048],[5.2,0.13],[5.43,0.097],[5.67,-0.018],[5.79,-0.075],[5.98,-0.002],[6.17,0.089],[6.37,0.023],[6.61,-0.002],[6.77,-0.043],[7.0,0.031],[7.16,0.162],[7.32,0.179],[7.55,0.261],[7.71,0.179],[7.86,0.023],[8.1,-0.034],[8.34,-0.002],[8.57,-0.034],[8.81,0.007],[9.12,-0.051],[9.28,-0.002],[9.59,-0.002],[9.83,-0.051],[10.03,-0.1],[10.22,-0.034],[10.53,0.031],[10.85,-0.01],[11.04,-0.034],[11.24,0.08],[11.48,0.138],[11.63,0.138],[11.79,0.064],[12.03,0.146],[12.26,0.183],[12.5,0.138],[12.65,0.056],[12.89,-0.034],[13.12,-0.125],[13.28,-0.19],[13.52,-0.166],[13.75,-0.174],[13.99,-0.149],[14.22,-0.125],[14.38,-0.207],[14.54,-0.33],[14.69,-0.493],[14.85,-0.69],[15.01,-0.735],[15.16,-0.6],[15.32,-0.37],[15.48,-0.239],[15.64,-0.182],[15.87,-0.207],[16.03,-0.264],[16.26,-0.231],[16.42,-0.248],[16.58,-0.182],[16.81,-0.1],[17.13,-0.055],[17.28,-0.034],[17.52,-0.075],[17.76,-0.149],[17.99,-0.133],[18.23,-0.141],[18.46,-0.034],[18.7,0.015],[18.93,0.031],[19.17,-0.006],[19.4,0.023],[19.64,0.097],[19.95,0.187],[20.27,0.207],[20.42,0.187],[20.66,0.031],[20.89,-0.051],[21.13,-0.116],[21.37,-0.084],[21.6,-0.116],[21.84,-0.215],[22.07,-0.264],[22.31,-0.317],[22.54,-0.19],[22.78,-0.149],[23.01,-0.108],[23.25,-0.084],[23.48,-0.002],[23.64,0.072],[23.8,0.08],[23.96,0.007],[24.19,-0.248],[24.35,-0.477],[24.47,-0.526],[24.6,-0.534],[24.73,-0.666],[24.84,-0.493],[25.0,-0.33],[25.15,-0.166],[25.31,-0.034],[25.47,-0.223],[25.59,-0.264],[25.7,-0.182],[25.94,-0.174],[26.1,-0.01],[26.33,0.015],[26.49,0.031],[26.72,0.023],[26.88,0.056],[27.12,-0.002],[27.35,0.039],[27.66,0.06],[27.9,0.048],[28.14,0.064],[28.45,0.068],[28.76,0.039],[29.08,0.031],[29.31,-0.01],[29.55,-0.01],[29.78,0.089],[30.02,0.162],[30.25,0.17],[30.41,0.162],[30.65,0.056],[30.88,0.035],[31.12,0.113],[31.28,0.13],[31.51,0.031],[31.75,-0.026],[31.98,-0.1],[32.22,-0.116],[32.45,-0.149],[32.69,-0.059],[33.0,-0.157],[33.24,-0.33],[33.47,-0.452],[33.79,-0.248],[34.02,-0.354],[34.34,-0.436],[34.57,-0.289],[34.81,-0.157],[35.04,-0.248],[35.36,-0.28],[35.59,-0.272],[35.83,-0.313],[36.14,-0.37],[36.38,-0.313],[36.61,-0.387],[36.93,-0.477],[37.16,-0.248],[37.4,-0.133],[37.63,-0.075],[37.87,-0.1],[38.1,-0.231],[38.42,-0.166],[38.65,-0.116],[38.89,-0.19],[39.2,-0.28],[39.52,-0.362],[39.83,-0.37],[40.07,-0.338],[40.3,-0.297],[40.62,-0.182],[41.01,-0.166],[41.24,-0.223],[41.56,-0.207],[41.79,-0.19],[42.03,-0.157],[42.34,-0.149],[42.58,-0.215],[42.81,-0.321],[43.05,-0.338],[43.28,-0.231],[43.6,-0.116],[43.91,-0.141],[44.23,-0.215],[44.54,-0.375],[44.85,-0.297],[45.17,-0.215],[45.48,-0.133],[45.72,-0.231],[45.87,-0.248],[46.11,-0.034],[46.35,-0.026],[46.5,-0.051],[46.74,0.031],[46.9,0.048],[47.13,-0.01],[47.29,-0.075],[47.44,-0.133]];
const cSlantPartition = [[0.02,0.015],[0.25,0.007],[0.49,-0.034],[0.72,0.072],[0.88,-0.002],[1.11,0.031],[1.35,0.097],[1.59,0.13],[1.74,0.138],[1.9,0.072],[2.14,0.023],[2.29,-0.01],[2.61,-0.018],[2.84,-0.026],[3.16,-0.018],[3.47,-0.034],[3.94,-0.051],[4.25,-0.043],[4.57,-0.051],[4.88,-0.055],[5.12,-0.026],[5.32,-0.002],[5.51,-0.043],[5.82,-0.1],[6.14,-0.059],[6.45,-0.116],[6.77,-0.149],[7.0,-0.1],[7.16,-0.022],[7.39,-0.03],[7.63,-0.043],[7.86,-0.125],[8.1,-0.125],[8.41,-0.084],[8.65,-0.059],[8.89,-0.047],[9.12,-0.084],[9.43,-0.133],[9.75,-0.149],[10.06,-0.145],[10.38,-0.149],[10.69,-0.182],[11.0,-0.207],[11.32,-0.182],[11.63,-0.174],[11.95,-0.149],[12.26,-0.149],[12.57,-0.145],[12.89,-0.182],[13.2,-0.215],[13.52,-0.194],[13.83,-0.19],[14.14,-0.157],[14.38,-0.129],[14.62,-0.133],[14.85,-0.231],[15.24,-0.276],[15.48,-0.243],[15.71,-0.223],[16.03,-0.231],[16.26,-0.211],[16.66,-0.198],[17.13,-0.198],[17.44,-0.202],[17.76,-0.219],[18.07,-0.215],[18.46,-0.186],[18.7,-0.198],[19.01,-0.235],[19.32,-0.223],[19.64,-0.215],[19.95,-0.198],[20.27,-0.166],[20.5,-0.174],[20.74,-0.202],[20.97,-0.166],[21.29,-0.133],[21.6,-0.178],[21.92,-0.149],[22.15,-0.182],[22.39,-0.289],[22.7,-0.276],[22.94,-0.215],[23.09,-0.149],[23.33,-0.1],[23.48,-0.141],[23.72,0.015],[23.96,0.097],[24.19,0.031],[24.35,-0.084],[24.6,-0.19],[24.76,-0.141],[25.0,-0.1],[25.23,-0.084],[25.47,-0.051],[25.7,-0.075],[26.02,-0.108],[26.25,-0.157],[26.57,-0.149],[26.8,-0.141],[27.04,-0.137],[27.35,-0.145],[27.66,-0.153],[27.98,-0.178],[28.29,-0.182],[28.61,-0.174],[28.92,-0.182],[29.23,-0.186],[29.55,-0.198],[29.86,-0.182],[30.18,-0.174],[30.41,-0.215],[30.65,-0.256],[30.96,-0.223],[31.28,-0.141],[31.59,-0.166],[31.82,-0.223],[32.06,-0.239],[32.37,-0.252],[32.61,-0.207],[32.85,-0.182],[33.16,-0.215],[33.47,-0.231],[33.79,-0.243],[34.18,-0.227],[34.49,-0.272],[34.73,-0.28],[35.04,-0.239],[35.36,-0.239],[35.59,-0.231],[35.83,-0.28],[36.14,-0.33],[36.38,-0.297],[36.61,-0.28],[36.77,-0.268],[37.0,-0.301],[37.32,-0.289],[37.63,-0.264],[37.95,-0.26],[38.26,-0.276],[38.58,-0.276],[38.89,-0.239],[39.2,-0.264],[39.52,-0.297],[39.83,-0.301],[40.07,-0.342],[40.38,-0.321],[40.69,-0.289],[41.01,-0.28],[41.32,-0.305],[41.64,-0.305],[42.03,-0.289],[42.42,-0.272],[42.66,-0.289],[42.97,-0.33],[43.28,-0.33],[43.6,-0.297],[43.83,-0.297],[44.23,-0.346],[44.54,-0.338],[44.85,-0.289],[45.17,-0.256],[45.48,-0.26],[45.72,-0.28],[46.03,-0.231],[46.27,-0.186],[46.5,-0.248],[46.82,-0.264],[47.13,-0.268],[47.44,-0.276]];
const cProposed = [[0.02,0.023],[0.17,0.027],[0.33,0.031],[0.46,-0.067],[0.57,-0.018],[0.72,-0.034],[0.83,-0.108],[0.96,-0.026],[1.11,-0.059],[1.27,0.031],[1.43,0.064],[1.66,0.097],[1.82,0.048],[1.98,-0.002],[2.21,-0.051],[2.53,-0.063],[3.0,-0.067],[3.47,-0.075],[3.94,-0.075],[4.41,-0.084],[4.88,-0.084],[5.2,-0.067],[5.43,-0.075],[5.67,-0.141],[5.9,-0.116],[6.14,-0.084],[6.45,-0.133],[6.69,-0.149],[6.92,-0.116],[7.16,-0.092],[7.39,-0.116],[7.63,-0.145],[7.86,-0.116],[8.02,-0.112],[8.26,-0.149],[8.49,-0.125],[8.89,-0.108],[9.28,-0.125],[9.75,-0.12],[10.38,-0.104],[10.69,-0.125],[11.0,-0.153],[11.32,-0.129],[11.79,-0.112],[12.42,-0.1],[12.89,-0.116],[13.28,-0.12],[13.67,-0.1],[14.14,-0.084],[14.46,-0.059],[14.69,-0.067],[14.93,-0.084],[15.24,-0.12],[15.56,-0.108],[15.87,-0.084],[16.19,-0.075],[16.5,-0.075],[16.81,-0.08],[17.13,-0.063],[17.52,-0.055],[17.91,-0.059],[18.23,-0.088],[18.54,-0.063],[19.01,-0.067],[19.48,-0.051],[19.95,-0.047],[20.42,-0.047],[20.82,-0.026],[21.05,-0.01],[21.37,-0.022],[21.68,-0.047],[21.99,-0.063],[22.31,-0.104],[22.54,-0.129],[22.78,-0.108],[23.01,-0.075],[23.25,-0.067],[23.48,-0.12],[23.72,-0.092],[23.96,-0.067],[24.11,-0.043],[24.27,-0.084],[24.47,-0.223],[24.68,-0.215],[24.84,-0.133],[25.0,-0.034],[25.15,-0.116],[25.31,-0.026],[25.47,-0.075],[25.7,-0.034],[25.94,-0.043],[26.17,-0.014],[26.41,-0.043],[26.72,-0.047],[27.04,-0.051],[27.51,-0.039],[27.74,-0.067],[28.06,-0.092],[28.45,-0.067],[28.76,-0.059],[29.08,-0.067],[29.39,-0.067],[29.71,-0.075],[30.02,-0.051],[30.25,-0.043],[30.57,-0.067],[30.88,-0.08],[31.28,-0.075],[31.59,-0.092],[31.9,-0.1],[32.3,-0.092],[32.61,-0.084],[32.85,-0.075],[33.16,-0.075],[33.39,-0.071],[33.55,-0.116],[33.87,-0.096],[34.1,-0.1],[34.34,-0.096],[34.57,-0.129],[34.89,-0.1],[35.12,-0.063],[35.44,-0.1],[35.75,-0.133],[36.14,-0.116],[36.61,-0.104],[37.0,-0.108],[37.4,-0.108],[37.71,-0.1],[38.03,-0.133],[38.42,-0.137],[38.73,-0.149],[39.12,-0.145],[39.44,-0.141],[39.91,-0.149],[40.3,-0.174],[40.62,-0.149],[41.01,-0.157],[41.4,-0.157],[41.79,-0.157],[42.03,-0.174],[42.34,-0.157],[42.66,-0.161],[43.05,-0.19],[43.52,-0.186],[43.91,-0.194],[44.3,-0.231],[44.62,-0.264],[44.93,-0.223],[45.25,-0.223],[45.56,-0.231],[45.87,-0.239],[46.11,-0.207],[46.35,-0.202],[46.66,-0.223],[46.9,-0.207],[47.13,-0.231],[47.37,-0.264],[47.52,-0.264]];

// ---- panel (d) ----
const dSlant2nd = [[0.05,-0.095],[0.21,-0.174],[0.37,0.063],[0.6,0.016],[0.79,0.126],[0.92,0.047],[1.08,-0.047],[1.31,-0.205],[1.47,-0.126],[1.62,-0.19],[1.78,-0.063],[2.02,0.063],[2.14,0.095],[2.33,-0.032],[2.57,-0.079],[2.8,-0.134],[3.04,-0.063],[3.27,-0.047],[3.59,0.008],[3.9,-0.008],[4.29,-0.024],[4.69,-0.016],[5.0,-0.071],[5.24,-0.087],[5.47,0.0],[5.79,0.047],[6.02,-0.016],[6.26,0.0],[6.57,-0.032],[6.81,-0.095],[7.04,-0.142],[7.28,-0.047],[7.43,0.174],[7.59,0.316],[7.75,0.221],[7.9,0.095],[8.06,-0.095],[8.3,-0.055],[8.61,-0.016],[8.85,-0.032],[9.0,-0.221],[9.24,-0.253],[9.55,-0.276],[9.87,-0.3],[10.18,-0.284],[10.49,-0.363],[10.81,-0.403],[11.12,-0.379],[11.44,-0.411],[11.75,-0.411],[12.06,-0.466],[12.38,-0.395],[12.69,-0.34],[13.01,-0.363],[13.24,-0.316],[13.48,-0.332],[13.79,-0.45],[14.03,-0.427],[14.26,-0.395],[14.5,-0.174],[14.65,-0.079],[14.81,-0.111],[14.97,-0.411],[15.13,-0.664],[15.28,-0.782],[15.44,-0.648],[15.6,-0.474],[15.75,-0.395],[15.99,-0.537],[16.23,-0.679],[16.46,-0.664],[16.7,-0.569],[16.93,-0.521],[17.17,-0.553],[17.4,-0.632],[17.72,-0.711],[17.95,-0.687],[18.19,-0.569],[18.5,-0.506],[18.81,-0.466],[19.13,-0.474],[19.44,-0.537],[19.83,-0.569],[20.15,-0.474],[20.46,-0.411],[20.78,-0.49],[21.01,-0.553],[21.25,-0.348],[21.56,-0.292],[21.72,-0.506],[21.95,-0.403],[22.19,-0.521],[22.5,-0.719],[22.74,-0.569],[22.98,-0.158],[23.21,-0.032],[23.45,0.095],[23.6,0.585],[23.76,0.964],[23.92,1.153],[24.07,1.011],[24.23,0.774],[24.3,0.395],[24.49,0.411],[24.65,0.458],[24.81,0.6],[24.97,0.411],[25.04,0.269],[25.2,0.253],[25.28,0.063],[25.44,-0.079],[25.67,-0.095],[25.91,-0.111],[26.14,-0.055],[26.38,-0.095],[26.61,-0.047],[26.85,-0.016],[27.09,-0.063],[27.48,-0.071],[27.71,-0.087],[27.95,-0.126],[28.18,-0.142],[28.42,-0.253],[28.66,-0.221],[28.89,-0.142],[29.13,-0.126],[29.36,-0.15],[29.6,-0.126],[29.83,-0.221],[29.99,-0.3],[30.3,-0.316],[30.62,-0.316],[30.85,-0.284],[31.09,-0.316],[31.32,-0.371],[31.56,-0.363],[31.87,-0.3],[32.19,-0.253],[32.5,-0.237],[32.74,-0.079],[32.97,-0.016],[33.21,0.008],[33.44,-0.095],[33.6,-0.174],[33.84,-0.253],[34.07,-0.348],[34.39,-0.442],[34.62,-0.498],[34.86,-0.434],[35.01,-0.49],[35.17,-0.379],[35.41,-0.221],[35.64,-0.158],[35.88,-0.253],[36.11,-0.458],[36.35,-0.553],[36.5,-0.458],[36.66,-0.253],[36.82,-0.095],[37.05,-0.19],[37.29,-0.442],[37.52,-0.316],[37.76,-0.3],[37.99,-0.205],[38.23,-0.221],[38.47,-0.284],[38.78,-0.363],[39.02,-0.332],[39.25,-0.395],[39.49,-0.442],[39.8,-0.45],[40.11,-0.521],[40.43,-0.545],[40.66,-0.506],[40.98,-0.442],[41.29,-0.411],[41.61,-0.371],[41.92,-0.403],[42.16,-0.442],[42.47,-0.411],[42.71,-0.253],[42.94,-0.221],[43.18,-0.253],[43.41,-0.316],[43.65,-0.411],[43.88,-0.442],[44.12,-0.474],[44.35,-0.379],[44.59,-0.174],[44.82,-0.19],[45.06,-0.284],[45.3,-0.348],[45.53,-0.221],[45.77,-0.332],[46.0,-0.284],[46.24,-0.379],[46.47,-0.284],[46.71,-0.442],[46.94,-0.316],[47.18,-0.237],[47.41,-0.079],[47.57,-0.103]];
const dSlantAzimuth = [[0.05,-0.032],[0.21,-0.174],[0.45,-0.095],[0.68,-0.174],[0.84,-0.111],[1.08,-0.221],[1.31,-0.411],[1.55,-0.316],[1.78,-0.411],[2.02,-0.284],[2.17,-0.284],[2.41,-0.379],[2.65,-0.427],[2.8,-0.474],[3.04,-0.434],[3.27,-0.411],[3.51,-0.387],[3.82,-0.371],[4.14,-0.387],[4.45,-0.395],[4.84,-0.403],[5.24,-0.442],[5.47,-0.348],[5.79,-0.3],[6.02,-0.355],[6.33,-0.371],[6.57,-0.348],[6.88,-0.332],[7.12,-0.387],[7.35,-0.316],[7.67,-0.253],[7.98,-0.276],[8.38,-0.245],[8.69,-0.269],[9.08,-0.284],[9.4,-0.269],[9.71,-0.3],[10.1,-0.316],[10.49,-0.363],[10.81,-0.411],[11.12,-0.387],[11.44,-0.284],[11.75,-0.276],[11.99,-0.324],[12.22,-0.269],[12.54,-0.229],[12.85,-0.253],[13.16,-0.237],[13.48,-0.269],[13.79,-0.284],[14.03,-0.237],[14.26,-0.205],[14.5,-0.032],[14.65,0.095],[14.81,0.032],[15.05,-0.174],[15.28,-0.3],[15.52,-0.19],[15.71,-0.118],[15.99,-0.19],[16.23,-0.316],[16.54,-0.411],[16.78,-0.379],[17.01,-0.316],[17.25,-0.332],[17.56,-0.45],[17.87,-0.529],[18.19,-0.434],[18.5,-0.363],[18.89,-0.355],[19.21,-0.363],[19.52,-0.395],[19.91,-0.45],[20.23,-0.348],[20.46,-0.221],[20.78,-0.205],[21.09,-0.174],[21.25,-0.158],[21.48,-0.253],[21.72,-0.142],[21.95,-0.095],[22.19,-0.174],[22.42,-0.253],[22.58,-0.395],[22.82,-0.442],[23.05,-0.253],[23.29,-0.221],[23.52,-0.142],[23.68,0.063],[23.92,0.269],[24.15,0.221],[24.39,0.142],[24.57,0.063],[24.81,0.142],[24.97,-0.032],[25.2,-0.095],[25.36,-0.3],[25.59,-0.371],[25.83,-0.395],[26.06,-0.348],[26.3,-0.379],[26.69,-0.363],[27.01,-0.387],[27.32,-0.403],[27.63,-0.442],[28.03,-0.466],[28.42,-0.545],[28.73,-0.474],[29.05,-0.419],[29.44,-0.411],[29.6,-0.387],[29.91,-0.458],[30.15,-0.498],[30.46,-0.482],[30.77,-0.411],[31.09,-0.363],[31.4,-0.387],[31.8,-0.332],[32.11,-0.261],[32.34,-0.332],[32.66,-0.395],[32.97,-0.269],[33.29,-0.15],[33.52,-0.158],[33.84,-0.269],[34.23,-0.324],[34.54,-0.269],[34.86,-0.158],[35.09,-0.182],[35.33,-0.126],[35.64,-0.158],[36.03,-0.316],[36.27,-0.253],[36.5,-0.205],[36.74,-0.047],[36.98,-0.079],[37.29,-0.292],[37.68,-0.261],[38.07,-0.205],[38.31,-0.197],[38.62,-0.276],[39.02,-0.253],[39.41,-0.269],[39.8,-0.261],[40.11,-0.308],[40.51,-0.371],[40.82,-0.332],[41.29,-0.324],[41.76,-0.284],[42.08,-0.324],[42.39,-0.3],[42.71,-0.182],[43.1,-0.19],[43.33,-0.269],[43.73,-0.3],[44.12,-0.348],[44.43,-0.237],[44.67,-0.087],[44.9,-0.174],[45.14,-0.284],[45.37,-0.316],[45.61,-0.34],[45.84,-0.395],[46.08,-0.49],[46.32,-0.442],[46.55,-0.49],[46.79,-0.545],[47.1,-0.506],[47.34,-0.411],[47.49,-0.371]];
const dSlantPartition = [[0.05,0.016],[0.21,0.079],[0.42,0.134],[0.6,0.055],[0.84,0.008],[1.08,-0.008],[1.31,-0.071],[1.55,-0.008],[1.78,0.063],[2.02,0.166],[2.17,0.142],[2.33,0.016],[2.57,-0.032],[2.88,-0.008],[3.27,0.008],[3.9,0.032],[4.53,0.039],[5.0,-0.008],[5.24,-0.039],[5.47,0.008],[5.79,0.035],[6.26,0.039],[6.73,0.047],[7.2,0.063],[7.67,0.079],[7.98,0.039],[8.38,0.071],[8.77,0.055],[9.24,0.087],[9.71,0.071],[10.02,0.047],[10.49,0.039],[10.81,0.016],[11.04,-0.032],[11.28,-0.071],[11.59,-0.024],[11.91,0.024],[12.38,0.047],[12.85,0.047],[13.32,0.039],[13.79,0.063],[14.1,0.079],[14.34,0.071],[14.58,0.205],[14.89,0.19],[15.13,0.0],[15.44,-0.024],[15.83,0.024],[16.15,-0.039],[16.46,-0.047],[16.78,-0.008],[17.09,0.0],[17.56,0.0],[17.87,-0.024],[18.19,0.008],[18.66,0.016],[19.13,0.039],[19.6,0.008],[19.91,-0.024],[20.23,-0.055],[20.54,-0.008],[20.86,0.0],[21.17,0.055],[21.41,0.008],[21.64,-0.047],[21.95,-0.032],[22.27,-0.055],[22.5,-0.111],[22.82,-0.134],[23.05,-0.063],[23.29,-0.008],[23.52,0.063],[23.84,0.221],[24.15,0.292],[24.3,0.15],[24.42,0.063],[24.65,0.0],[24.97,-0.016],[25.28,0.032],[25.44,-0.095],[25.67,-0.126],[25.88,-0.182],[26.06,-0.111],[26.3,-0.024],[26.54,0.032],[26.85,0.024],[27.24,0.008],[27.63,0.008],[28.03,0.0],[28.42,-0.032],[28.73,-0.008],[29.05,0.039],[29.36,0.024],[29.75,-0.008],[30.15,-0.008],[30.54,0.008],[30.93,0.039],[31.4,-0.024],[31.8,0.008],[32.19,0.032],[32.58,0.039],[32.89,0.016],[33.21,0.095],[33.52,0.111],[33.76,0.047],[34.15,0.039],[34.54,0.0],[34.93,-0.016],[35.33,-0.008],[35.8,0.008],[36.27,0.0],[36.74,0.039],[37.21,0.0],[37.68,0.008],[38.15,0.039],[38.62,0.008],[39.02,-0.008],[39.41,-0.016],[39.88,0.008],[40.19,-0.024],[40.51,-0.047],[40.98,-0.024],[41.45,-0.016],[41.92,-0.008],[42.39,0.008],[42.71,0.032],[43.18,-0.016],[43.49,-0.032],[43.88,-0.016],[44.27,0.008],[44.51,0.087],[44.75,0.142],[45.06,0.032],[45.37,-0.095],[45.69,-0.19],[45.92,-0.276],[46.16,-0.221],[46.39,-0.158],[46.63,-0.063],[46.94,-0.103],[47.26,-0.095],[47.49,-0.008]];
const dProposed = [[0.05,0.024],[0.29,0.008],[0.6,-0.024],[0.92,-0.032],[1.15,-0.008],[1.39,-0.024],[1.62,0.008],[1.86,0.047],[2.1,0.079],[2.33,0.032],[2.65,0.008],[2.96,0.008],[3.27,0.024],[3.74,0.035],[4.22,0.028],[4.69,0.035],[5.08,0.008],[5.47,0.032],[5.94,0.024],[6.41,0.032],[6.96,0.055],[7.35,0.047],[7.83,0.055],[8.3,0.055],[8.61,0.044],[9.08,0.079],[9.4,0.09],[9.71,0.095],[10.02,0.071],[10.49,0.063],[10.81,0.071],[11.04,0.063],[11.28,0.016],[11.67,0.035],[12.22,0.039],[12.69,0.055],[13.16,0.047],[13.63,0.039],[14.1,0.039],[14.58,0.055],[14.89,0.103],[15.13,0.016],[15.44,-0.008],[15.83,0.039],[16.15,0.0],[16.46,-0.016],[16.78,-0.008],[17.09,0.0],[17.56,0.016],[18.03,0.008],[18.5,0.008],[18.97,0.016],[19.44,0.013],[19.91,0.008],[20.23,-0.008],[20.7,-0.016],[21.17,0.008],[21.56,-0.008],[21.88,0.024],[22.19,0.0],[22.58,0.0],[22.9,-0.008],[23.13,0.103],[23.37,0.063],[23.6,0.0],[23.84,0.008],[24.15,0.111],[24.42,-0.016],[24.73,-0.039],[25.04,-0.024],[25.28,0.0],[25.59,-0.055],[25.91,-0.079],[26.22,-0.016],[26.54,0.024],[26.85,0.008],[27.48,0.0],[27.95,0.008],[28.42,0.016],[28.89,0.039],[29.36,0.044],[29.83,0.055],[30.46,0.055],[31.09,0.06],[31.56,0.039],[32.03,0.051],[32.5,0.044],[32.97,0.055],[33.29,0.082],[33.6,0.071],[34.07,0.087],[34.54,0.055],[35.01,0.035],[35.48,0.0],[35.8,0.016],[36.11,0.055],[36.58,0.035],[37.05,0.032],[37.52,0.035],[38.0,0.024],[38.47,0.039],[38.94,0.016],[39.41,0.008],[39.88,0.024],[40.35,0.024],[40.82,0.032],[41.29,0.032],[41.76,0.024],[42.23,0.032],[42.71,0.039],[43.02,0.008],[43.33,0.0],[43.8,0.032],[44.27,0.039],[44.67,0.087],[45.06,0.008],[45.53,-0.008],[45.92,-0.071],[46.32,-0.016],[46.63,0.008],[47.1,0.0],[47.49,0.013]];

// ---------------- layout ----------------
const PLOT_W = 1326, PLOT_H = 991;
const panels = [
  { left: 244,  top: 274,  yMin: -0.9, yMax: 0.6, yTicks: aYTicks, data: [aSlant2nd, aSlantAzimuth, aSlantPartition, aProposed], caption: '(a)' },
  { left: 1845, top: 274,  yMin: -0.4, yMax: 1.2, yTicks: bYTicks, data: [bSlant2nd, bSlantAzimuth, bSlantPartition, bProposed], caption: '(b)' },
  { left: 244,  top: 1573, yMin: -0.8, yMax: 0.5, yTicks: cYTicks, data: [cSlant2nd, cSlantAzimuth, cSlantPartition, cProposed], caption: '(c)' },
  { left: 1845, top: 1573, yMin: -1.0, yMax: 1.5, yTicks: dYTicks, data: [dSlant2nd, dSlantAzimuth, dSlantPartition, dProposed], caption: '(d)' }
];
const X_MIN = 0, X_MAX = 48;

function minorsOf(ticks, min, max) {
  const step = ticks[1] - ticks[0];
  const out = [ticks[0] - step / 2].concat(ticks.map(t => t + step / 2));
  return out.map(v => Math.round(v * 1e6) / 1e6).filter(v => v > min + 1e-6 && v < max - 1e-6);
}

function blankAxis(gi, position, min, max) {
  return {
    type: 'value', gridIndex: gi, position, min, max,
    splitLine: { show: false },
    axisLine: { show: false, onZero: false },
    axisTick: { show: false },
    axisLabel: { show: false }
  };
}

// one side of a frame: line + major ticks (crossing the line) + minor ticks
function sideAxes(gi, position, min, max, majors, minors, extra) {
  const tickStyle = { color: '#000', width: 4 };
  const main = Object.assign(blankAxis(gi, position, min, max), {
    axisLine: { show: true, onZero: false, lineStyle: { color: '#000', width: 5 } },
    axisTick: { show: true, inside: true, length: 9, customValues: majors, lineStyle: tickStyle }
  }, extra || {});
  const outTicks = Object.assign(blankAxis(gi, position, min, max), {
    axisTick: { show: true, inside: false, length: 8, customValues: majors, lineStyle: tickStyle }
  });
  const minorTicks = Object.assign(blankAxis(gi, position, min, max), {
    axisTick: { show: true, inside: true, length: 5, customValues: minors, lineStyle: { color: '#000', width: 3 } }
  });
  return [main, outTicks, minorTicks];
}

const grids = [], xAxes = [], yAxes = [], series = [], graphics = [];
const xMinors = minorsOf(xTickValues, X_MIN, X_MAX);

panels.forEach((p, gi) => {
  grids.push({ left: p.left, top: p.top, width: PLOT_W, height: PLOT_H, containLabel: false });
  const yMinors = minorsOf(p.yTicks, p.yMin, p.yMax);

  const xIndex = xAxes.length;
  xAxes.push(...sideAxes(gi, 'bottom', X_MIN, X_MAX, xTickValues, xMinors, {
    name: 'Time(h)', nameLocation: 'middle', nameGap: 68, nameMoveOverlap: false,
    nameTextStyle: { fontFamily: FONT, fontSize: 80, color: '#000' },
    axisLabel: {
      show: true, customValues: xTickValues, margin: 10,
      fontFamily: FONT, fontSize: 76, color: '#000',
      formatter: v => {
        const i = xTickValues.findIndex(t => Math.abs(t - v) < 1e-6);
        return i >= 0 ? xTickLabels[i] : '';
      }
    }
  }));
  xAxes.push(...sideAxes(gi, 'top', X_MIN, X_MAX, xTickValues, xMinors));

  const yIndex = yAxes.length;
  yAxes.push(...sideAxes(gi, 'left', p.yMin, p.yMax, p.yTicks, yMinors, {
    name: 'Phase Difference(rad)', nameLocation: 'middle', nameGap: 114, nameMoveOverlap: false,
    nameTextStyle: { fontFamily: FONT, fontSize: 83, color: '#000' },
    axisLabel: {
      show: true, customValues: p.yTicks, margin: 12,
      fontFamily: FONT, fontSize: 76, color: '#000',
      formatter: v => Number(v).toFixed(1)
    }
  }));
  yAxes.push(...sideAxes(gi, 'right', p.yMin, p.yMax, p.yTicks, yMinors));

  p.data.forEach((d, k) => {
    series.push({
      type: 'line', name: seriesNames[k],
      xAxisIndex: xIndex, yAxisIndex: yIndex,
      data: d, showSymbol: false, symbol: 'none', silent: true,
      clip: true,
      itemStyle: { color: seriesColors[k] },
      lineStyle: { color: seriesColors[k], width: k === 3 ? 7 : 5, opacity: k === 3 ? 1 : 0.92 },
      z: 2 + k
    });
  });

  graphics.push({
    type: 'text', x: p.left + 601, y: p.top + 1193,
    style: {
      text: p.caption, font: '92px "Liberation Serif", "Times New Roman", serif',
      fill: '#262626', textAlign: 'center', textVerticalAlign: 'middle',
      align: 'center', verticalAlign: 'middle'
    }
  });
});

// legend frames
graphics.push(
  { type: 'rect', shape: { x: 241, y: 28, width: 1622, height: 183 }, style: { fill: 'none', stroke: '#000', lineWidth: 5 } },
  { type: 'rect', shape: { x: 1869, y: 28, width: 1299, height: 183 }, style: { fill: 'none', stroke: '#000', lineWidth: 5 } }
);

const legendBase = {
  orient: 'vertical', top: 51, padding: 0, itemGap: 22,
  itemWidth: 87, itemHeight: 9, icon: 'roundRect', selectedMode: false,
  textStyle: { fontFamily: FONT, fontSize: 65, color: '#000', padding: [0, 0, 0, -5] }
};

const chart = echarts.init(document.getElementById('chart'), null, { renderer: 'canvas' });
chart.setOption({
  backgroundColor: '#fff',
  animation: false,
  textStyle: { fontFamily: FONT },
  legend: [
    Object.assign({}, legendBase, { left: 244, data: [seriesNames[0], seriesNames[2]] }),
    Object.assign({}, legendBase, { left: 1875, data: [seriesNames[1], seriesNames[3]] })
  ],
  grid: grids,
  xAxis: xAxes,
  yAxis: yAxes,
  series: series,
  graphic: { elements: graphics }
});
window.addEventListener('resize', () => chart.resize());
</script>
</body>
</html>
